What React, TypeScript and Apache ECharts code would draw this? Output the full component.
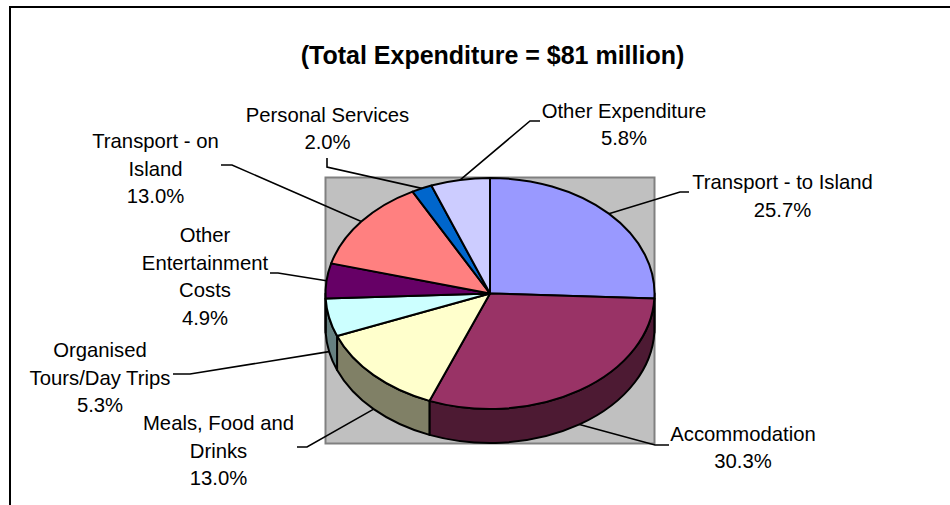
import React, { useEffect, useRef } from "react";
import * as echarts from "echarts";

// Visitor expenditure shares, clockwise from twelve o'clock.
const categories = [
  "Transport - to Island",
  "Accommodation",
  "Meals, Food and\nDrinks",
  "Organised\nTours/Day Trips",
  "Other\nEntertainment\nCosts",
  "Transport - on\nIsland",
  "Personal Services",
  "Other Expenditure",
];
const shares = [25.7, 30.3, 13.0, 5.3, 4.9, 13.0, 2.0, 5.8];
const chartTitle = "(Total Expenditure = $81 million)";

const topColors = ["#9999FF", "#993366", "#FFFFCC", "#CCFFFF", "#660066", "#FF8080", "#0066CC", "#CCCCFF"];
const sideColors = ["#4D4D80", "#4D1A33", "#808066", "#668080", "#330033", "#804040", "#003366", "#666680"];

// Tilted disc geometry.
const CX = 490;
const CY = 293.5;
const RX = 164.5;
const RY = 115.5;
const DEPTH = 34;

// Where each label sits and the bend of its leader, in slice order.
const labelCentres = [
  [782.5, 196],
  [743, 447.5],
  [218.5, 450.5],
  [100, 377.5],
  [205, 276.5],
  [155.5, 168.5],
  [327.5, 128.5],
  [624, 124.5],
];
const leaderBends = [
  [[689, 192], [680, 192]],
  [[669, 445], [655, 445]],
  [[297, 447], [307, 447]],
  [[173, 374], [190, 374]],
  [[270, 273], [278, 273]],
  [[221, 165], [232, 165]],
  [[327, 158], [327, 167]],
  [[540, 121], [530, 121]],
];

const total = shares.reduce((a, b) => a + b, 0);
const starts: number[] = [];
shares.reduce((acc, v, i) => {
  starts[i] = acc;
  return acc + v;
}, 0);
const toAngle = (v: number) => (v / total) * 2 * Math.PI;
const rimPoint = (a: number, dy = 0): [number, number] => [
  CX + RX * Math.sin(a),
  CY - RY * Math.cos(a) + dy,
];
const arcTo = (a0: number, a1: number, dy: number) => {
  const [x, y] = rimPoint(a1, dy);
  const large = Math.abs(a1 - a0) > Math.PI ? 1 : 0;
  const sweep = a1 > a0 ? 1 : 0;
  return `A${RX} ${RY} 0 ${large} ${sweep} ${x} ${y}`;
};

const outline = { stroke: "#000", lineWidth: 2, lineJoin: "round" as const };

const rows = shares.map((v) => [v]);

const renderTop = (params: any, api: any) => {
  const i = params.dataIndex;
  const a0 = toAngle(starts[i]);
  const a1 = a0 + toAngle(api.value(0));
  const [sx, sy] = rimPoint(a0);
  return {
    type: "path",
    shape: { pathData: `M${CX} ${CY}L${sx} ${sy}${arcTo(a0, a1, 0)}Z` },
    style: { fill: topColors[i], ...outline },
  };
};

// Only the part of the rim facing the viewer (3 to 9 o'clock) gets a wall.
const renderSide = (params: any, api: any) => {
  const i = params.dataIndex;
  const a0 = Math.max(toAngle(starts[i]), Math.PI / 2);
  const a1 = Math.min(toAngle(starts[i]) + toAngle(api.value(0)), (3 * Math.PI) / 2);
  if (a1 <= a0) return null;
  const [sx, sy] = rimPoint(a0);
  const [ex, ey] = rimPoint(a1, DEPTH);
  return {
    type: "path",
    shape: {
      pathData: `M${sx} ${sy}${arcTo(a0, a1, 0)}L${ex} ${ey}${arcTo(a1, a0, DEPTH)}Z`,
    },
    style: { fill: sideColors[i], ...outline },
  };
};

const renderLabel = (params: any, api: any) => {
  const i = params.dataIndex;
  const value = api.value(0);
  const mid = toAngle(starts[i] + value / 2);
  const onFront = mid > Math.PI / 2 && mid < (3 * Math.PI) / 2;
  const end = rimPoint(mid, onFront ? DEPTH : 0);
  return {
    type: "group",
    children: [
      {
        type: "polyline",
        shape: { points: [...leaderBends[i], end] },
        style: { fill: "none", stroke: "#000", lineWidth: 1.6 },
      },
      {
        type: "text",
        style: {
          text: `${categories[i]}\n${value.toFixed(1)}%`,
          x: labelCentres[i][0],
          y: labelCentres[i][1],
          align: "center",
          verticalAlign: "middle",
          font: '20.3px "Liberation Sans", Arial, sans-serif',
          lineHeight: 27.4,
          fill: "#000",
        },
      },
    ],
  };
};

export default function App() {
  const ref = useRef<HTMLDivElement>(null);

  useEffect(() => {
    if (!ref.current) return;
    const chart = echarts.init(ref.current, undefined, { renderer: "svg" });
    chart.setOption({
      animation: false,
      backgroundColor: "#fff",
      title: {
        text: chartTitle,
        left: 487.5,
        top: 37,
        textAlign: "center",
        textStyle: {
          fontFamily: '"Liberation Sans", Arial, sans-serif',
          fontSize: 25,
          fontWeight: "bold",
          color: "#000",
        },
      },
      graphic: [
        {
          type: "rect",
          z: 0,
          shape: { x: 325.5, y: 177.5, width: 329, height: 266 },
          style: { fill: "#C0C0C0", stroke: "#808080", lineWidth: 2 },
        },
        {
          type: "polyline",
          z: 0,
          shape: { points: [[10, 505], [10, 7], [950, 7]] },
          style: { fill: "none", stroke: "#000", lineWidth: 2 },
        },
      ],
      series: [
        { type: "custom", coordinateSystem: "none", z: 2, data: rows, renderItem: renderSide, silent: true },
        { type: "custom", coordinateSystem: "none", z: 3, data: rows, renderItem: renderTop, silent: true },
        { type: "custom", coordinateSystem: "none", z: 4, data: rows, renderItem: renderLabel, silent: true },
      ],
    });
    return () => chart.dispose();
  }, []);

  return <div ref={ref} style={{ position: "fixed", left: 0, top: 0, width: 950, height: 505 }} />;
}
